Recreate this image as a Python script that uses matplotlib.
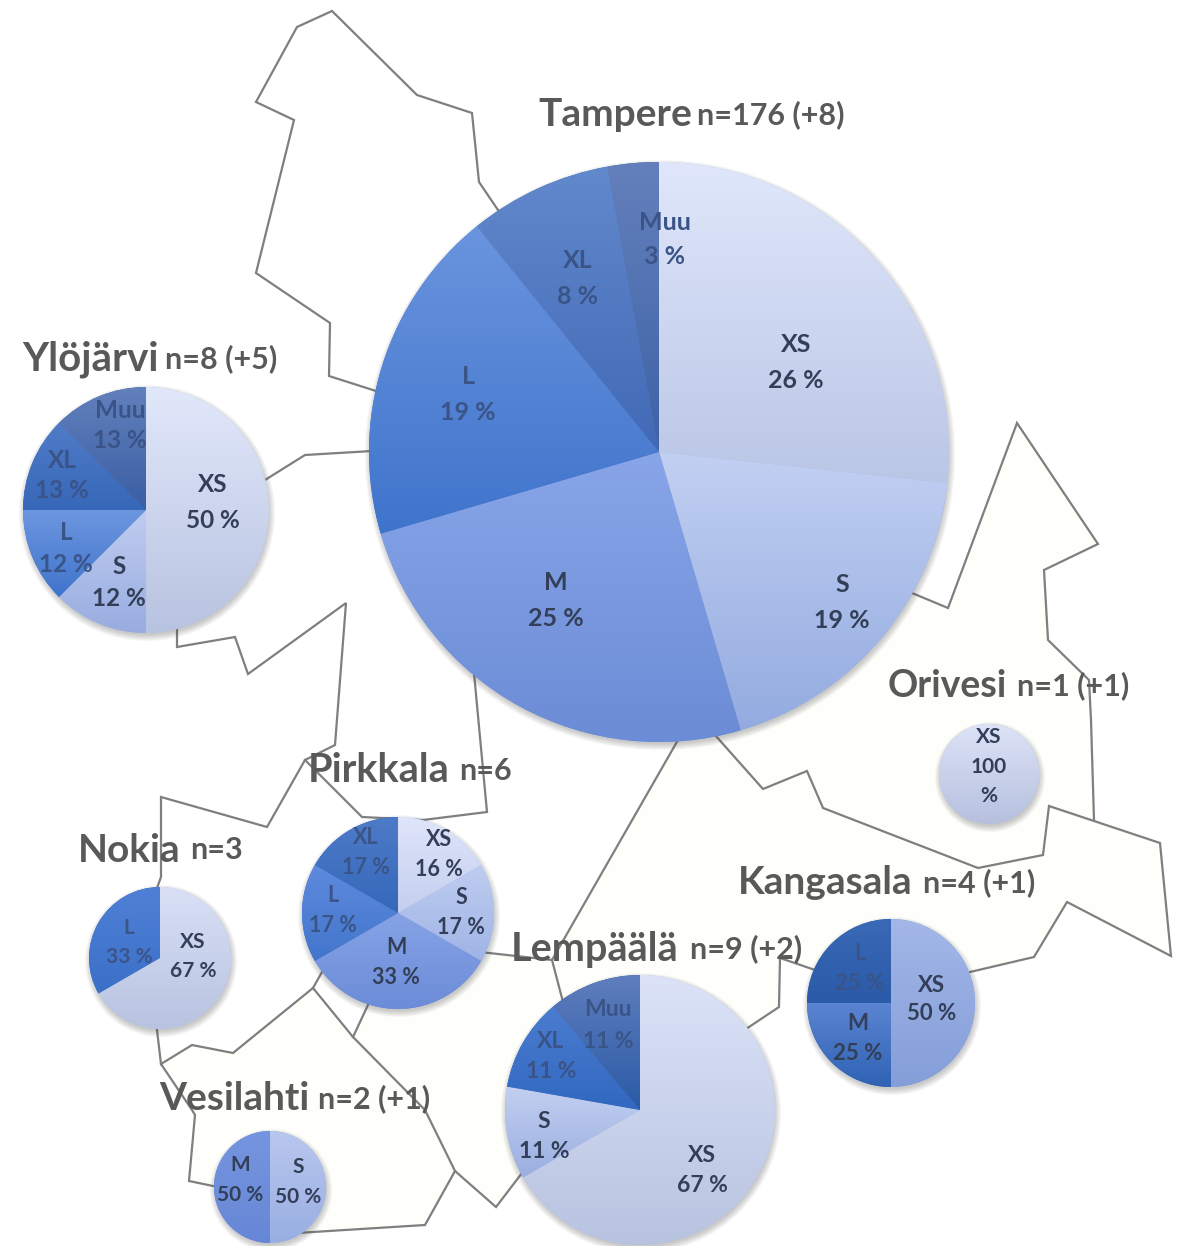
import matplotlib
matplotlib.use("Agg")
import matplotlib.pyplot as plt
import matplotlib.colors as mcolors
import numpy as np

plt.rcParams['font.family'] = ['Lato', 'DejaVu Sans']

# municipality names and respondent counts
names = ["Tampere", "Ylöjärvi", "Orivesi", "Pirkkala", "Nokia", "Kangasala", "Lempäälä", "Vesilahti"]
counts = ["n=176 (+8)", "n=8 (+5)", "n=1 (+1)", "n=6", "n=3", "n=4 (+1)", "n=9 (+2)", "n=2 (+1)"]

# size classes per municipality (clockwise from 12 o'clock): respondents and printed share
tampere_cat = ["XS", "S", "M", "L", "XL", "Muu"]
tampere_val = [47, 33, 44, 33, 14, 5]
tampere_pct = [26, 19, 25, 19, 8, 3]
ylojarvi_cat = ["XS", "S", "L", "XL", "Muu"]
ylojarvi_val = [4, 1, 1, 1, 1]
ylojarvi_pct = [50, 12, 12, 13, 13]
orivesi_cat = ["XS"]
orivesi_val = [1]
orivesi_pct = [100]
pirkkala_cat = ["XS", "S", "M", "L", "XL"]
pirkkala_val = [1, 1, 2, 1, 1]
pirkkala_pct = [16, 17, 33, 17, 17]
nokia_cat = ["XS", "L"]
nokia_val = [2, 1]
nokia_pct = [67, 33]
kangasala_cat = ["XS", "M", "L"]
kangasala_val = [2, 1, 1]
kangasala_pct = [50, 25, 25]
lempaala_cat = ["XS", "S", "XL", "Muu"]
lempaala_val = [6, 1, 1, 1]
lempaala_pct = [67, 11, 11, 11]
vesilahti_cat = ["S", "M"]
vesilahti_val = [1, 1]
vesilahti_pct = [50, 50]

# map borders, image pixels
borders = [
    [(498, 210), (479, 182), (472, 113), (417, 95), (332, 11), (297, 27), (256, 102), (294, 120),
     (256, 273), (330, 323), (329, 376), (376, 391)],
    [(912, 593), (948, 608), (1017, 423), (1098, 544), (1044, 570), (1048, 640), (1089, 680),
     (1091, 720), (1094, 820)],
    [(715, 735), (763, 789), (807, 771), (823, 808), (978, 868), (1043, 855), (1049, 806),
     (1160, 843), (1171, 956), (1067, 902), (1034, 957), (970, 972)],
    [(815, 970), (780, 958), (779, 1007), (746, 1029)],
    [(177, 628), (177, 647), (235, 637), (248, 674), (346, 603), (335, 745), (305, 760),
     (267, 827), (161, 797), (161, 877), (157, 888)],
    [(474, 673), (487, 812), (423, 820), (362, 817), (305, 760)],
    [(157, 1030), (161, 1064), (192, 1045), (233, 1053), (313, 988), (322, 972)],
    [(161, 1064), (192, 1110), (195, 1115), (189, 1181), (213, 1186)],
    [(313, 988), (353, 1037), (425, 1110), (455, 1171), (496, 1207), (522, 1173)],
    [(353, 1037), (368, 1005)],
    [(455, 1171), (425, 1225), (297, 1233)],
    [(480, 952), (552, 960), (563, 1002)],
    [(552, 960), (678, 740)],
    [(265, 480), (305, 455), (372, 451)],
]

# the faintly cream municipalities in the east and south
cream_areas = [
    [(912, 593), (948, 608), (1017, 423), (1098, 544), (1044, 570), (1048, 640), (1089, 680), (1094, 820),
     (1049, 806), (1043, 855), (978, 868), (823, 808), (807, 771), (763, 789), (715, 735)],
    [(1049, 806), (1160, 843), (1171, 956), (1067, 902), (1034, 957), (970, 972), (815, 970), (780, 958),
     (779, 1007), (746, 1029), (678, 740), (715, 735), (763, 789), (807, 771), (823, 808), (978, 868), (1043, 855)],
    [(161, 1064), (192, 1110), (195, 1115), (189, 1181), (297, 1233), (425, 1225), (455, 1171), (425, 1110),
     (353, 1037), (313, 988), (233, 1053), (192, 1045)],
    [(353, 1037), (368, 1005), (480, 952), (552, 960), (678, 740), (746, 1029), (522, 1173), (496, 1207),
     (455, 1171), (425, 1110)],
]

tampere_col = [("#e0e7fb", "#bac6e6"), ("#c2d0f2", "#93abe0"), ("#88a5e8", "#6b8cd6"),
               ("#6a94de", "#3f74cc"), ("#6289cc", "#4169b6"), ("#6480bc", "#3d62a6")]
ylojarvi_col = [("#e2e8fb", "#b8c3e0"), ("#c0cdf0", "#98ace0"), ("#6d96e0", "#3f74cc"),
                ("#4f7cc8", "#3767b8"), ("#6280bc", "#3a5ea4")]
orivesi_col = [("#dde3f7", "#b6c0de")]
pirkkala_col = [("#dfe5fa", "#c4cfee"), ("#bfcdf0", "#9fb4e6"), ("#86a3e6", "#6c8cd8"),
                ("#5f8ade", "#4176cc"), ("#4e7bc8", "#3568ba")]
nokia_col = [("#d9e0f6", "#b8c3e0"), ("#4f80d6", "#3b70c8")]
kangasala_col = [("#a3b7e8", "#849ed9"), ("#5b85d2", "#2f62b4"), ("#3a69b6", "#2a5aa8")]
lempaala_col = [("#dce3f8", "#b8c3e0"), ("#c2cff0", "#9aaee0"), ("#4b7dd0", "#3168c0"),
                ("#5f7ebd", "#2a5aa6")]
vesilahti_col = [("#b9c7ee", "#98aee2"), ("#7695e0", "#6687d6")]

# label spots (x, y of the name line, y of the percent line)
tampere_lab = [(796, 345, 381), (842, 585, 621), (556, 583, 619), (468, 377, 413), (578, 260, 296), (665, 222, 257)]
ylojarvi_lab = [(213, 485, 520), (119, 567, 598), (66, 533, 565), (62, 460, 490), (120, 410, 441)]
pirkkala_lab = [(439, 840, 870), (461, 898, 928), (396, 947, 977), (333, 896, 926), (366, 838, 868)]
nokia_lab = [(193, 942, 971), (129, 928, 957)]
kangasala_lab = [(932, 985, 1013), (858, 1024, 1053), (860, 953, 983)]
lempaala_lab = [(702, 1155, 1186), (544, 1121, 1152), (551, 1042, 1072), (608, 1010, 1041)]
vesilahti_lab = [(298, 1167, 1197), (240, 1165, 1195)]

title_col = "#595959"
line_col = "#7f7f7f"
lab_col = "#333f58"
lab_dark_col = "#3a5488"

W, H = 1185, 1246
fig = plt.figure(figsize=(W / 100, H / 100), dpi=100)
ax = fig.add_axes([0, 0, 1, 1])


def draw_pie(cx, cy, r, vals, cols):
    # soft shadow first
    for k in range(7):
        ax.add_patch(plt.Circle((cx + 1, cy + 3), r + 5 - k, fc="#404040", ec="none", alpha=0.045, zorder=2))
    # y axis points down, so counterclock in data is clockwise on screen
    wedges, _ = ax.pie(vals, center=(cx, cy), radius=r, startangle=-90, counterclock=True, normalize=True,
                       colors=[c[1] for c in cols], wedgeprops={"zorder": 3})
    for w, c in zip(wedges, cols):
        top = np.array(mcolors.to_rgb(c[0]))
        bot = np.array(mcolors.to_rgb(c[1]))
        t = np.linspace(0, 1, 256)[:, None, None]
        grad = top[None, None, :] * (1 - t) + bot[None, None, :] * t
        # gradient runs over the wedge's own height
        bb = w.get_path().get_extents(w.get_patch_transform())
        im = ax.imshow(grad, extent=(bb.x0, bb.x1, bb.y1, bb.y0), origin="upper", aspect="auto", zorder=4)
        im.set_clip_path(w)


def draw_labels(cats, pcts, spots, size):
    for cat, val, (x, y1, y2) in zip(cats, pcts, spots):
        c = lab_dark_col if cat in ("L", "XL", "Muu") else lab_col
        ax.text(x, y1, cat, fontsize=size, fontweight="bold", color=c, ha="center", va="center", zorder=6)
        ax.text(x, y2, "%d %%" % val, fontsize=size, fontweight="bold", color=c, ha="center", va="center", zorder=6)


for a in cream_areas:
    ax.fill([p[0] for p in a], [p[1] for p in a], color="#fefefb", lw=0, zorder=0)

for b in borders:
    xs = [p[0] for p in b]
    ys = [p[1] for p in b]
    ax.plot(xs, ys, color=line_col, lw=1.6, solid_joinstyle="miter", zorder=1)

draw_pie(659, 452, 290, tampere_val, tampere_col)
draw_pie(146, 510, 123, ylojarvi_val, ylojarvi_col)
draw_pie(989, 774, 50, orivesi_val, orivesi_col)
draw_pie(398, 913, 96, pirkkala_val, pirkkala_col)
draw_pie(160, 958, 71, nokia_val, nokia_col)
draw_pie(891, 1003, 84, kangasala_val, kangasala_col)
draw_pie(640, 1110, 135, lempaala_val, lempaala_col)
draw_pie(270, 1187, 56, vesilahti_val, vesilahti_col)

draw_labels(tampere_cat, tampere_pct, tampere_lab, 18)
draw_labels(ylojarvi_cat, ylojarvi_pct, ylojarvi_lab, 17.5)
draw_labels(pirkkala_cat, pirkkala_pct, pirkkala_lab, 15.5)
draw_labels(nokia_cat, nokia_pct, nokia_lab, 15)
draw_labels(kangasala_cat, kangasala_pct, kangasala_lab, 16)
draw_labels(lempaala_cat, lempaala_pct, lempaala_lab, 16.5)
draw_labels(vesilahti_cat, vesilahti_pct, vesilahti_lab, 15)

# Orivesi label wraps over three lines
ax.text(989, 737, orivesi_cat[0], fontsize=15, fontweight="bold", color=lab_col, ha="center", va="center", zorder=6)
ax.text(989, 767, str(orivesi_pct[0]), fontsize=15, fontweight="bold", color=lab_col, ha="center", va="center", zorder=6)
ax.text(989, 796, "%", fontsize=15, fontweight="bold", color=lab_col, ha="center", va="center", zorder=6)

title_x = [538, 22, 888, 308, 78, 738, 511, 159]
count_x = [697, 165, 1017, 459, 190, 923, 690, 318]
title_y = [113, 357, 684, 769, 848, 881, 947, 1097]
title_size = [28, 29, 27, 28.5, 28, 28, 28.5, 28]
for name, cnt, x1, x2, y, s in zip(names, counts, title_x, count_x, title_y, title_size):
    ax.text(x1, y + 2, name, fontsize=s, fontweight="bold", color=title_col, ha="left", va="center", zorder=7)
    ax.text(x2, y + 2, cnt, fontsize=22, fontweight="bold", color=title_col, ha="left", va="center", zorder=7)

ax.set_xlim(0, W)
ax.set_ylim(H, 0)
ax.set_aspect("auto")
ax.axis("off")

plt.savefig("out.png", dpi=100)
